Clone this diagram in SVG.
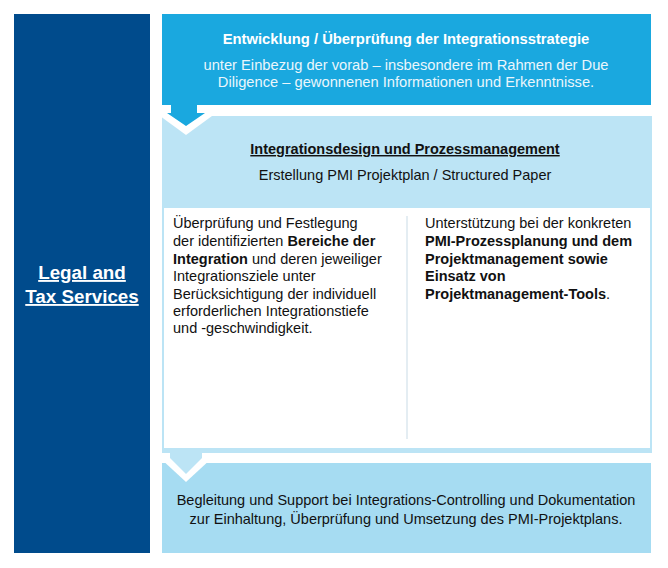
<svg xmlns="http://www.w3.org/2000/svg" width="668" height="568" viewBox="0 0 668 568">
<style>
text{font-family:"Liberation Sans",Arial,sans-serif;}
.w{fill:#ffffff;}
.k{fill:#111111;font-size:14.5px;}
.b{font-weight:bold;}
.c{text-anchor:middle;}
</style>
<rect x="0" y="0" width="668" height="568" fill="#ffffff"/>
<g id="legal">
<rect x="14" y="14" width="136" height="539" fill="#004b8c"/>
<text class="w b c" x="82" y="279" font-size="18.8" text-decoration="underline">Legal and</text>
<text class="w b c" x="82" y="303" font-size="18.8" text-decoration="underline">Tax Services</text>
</g>
<g id="strategy">
<rect x="162" y="14" width="489" height="91" fill="#1aa8df"/>
<text class="w b c" x="406" y="44" font-size="14.8">Entwicklung / Überprüfung der Integrationsstrategie</text>
<text class="c" x="406" y="70" font-size="14.7" fill="#eaf6fc">unter Einbezug der vorab – insbesondere im Rahmen der Due</text>
<text class="c" x="406" y="87" font-size="14.7" fill="#eaf6fc">Diligence – gewonnenen Informationen und Erkenntnisse.</text>
</g>
<g id="design">
<rect x="162" y="116" width="490" height="337" fill="#bce4f5"/>
<rect x="164" y="208" width="486" height="240" fill="#ffffff"/>
<text class="k b c" x="405" y="154" font-size="15.9" text-decoration="underline">Integrationsdesign und Prozessmanagement</text>
<text class="k c" x="405" y="180" font-size="15.7">Erstellung PMI Projektplan / Structured Paper</text>
<line x1="407" y1="216" x2="407" y2="439" stroke="#c9dbe6" stroke-width="1"/>
<text class="k" x="173" y="228">Überprüfung und Festlegung</text>
<text class="k" x="173" y="246">der identifizierten <tspan class="b">Bereiche der</tspan></text>
<text class="k" x="173" y="264"><tspan class="b">Integration</tspan> und deren jeweiliger</text>
<text class="k" x="173" y="281">Integrationsziele  unter</text>
<text class="k" x="173" y="299">Berücksichtigung der individuell</text>
<text class="k" x="173" y="316">erforderlichen Integrationstiefe</text>
<text class="k" x="173" y="333">und -geschwindigkeit.</text>
<text class="k" x="425" y="228">Unterstützung bei der konkreten</text>
<text class="k b" x="425" y="246">PMI-Prozessplanung und dem</text>
<text class="k b" x="425" y="264">Projektmanagement sowie</text>
<text class="k b" x="425" y="281">Einsatz von</text>
<text class="k" x="425" y="299"><tspan class="b">Projektmanagement-Tools</tspan>.</text>
</g>
<g id="support">
<rect x="162" y="463" width="489" height="90" fill="#a6dcf2"/>
<text class="k c" x="406" y="505" font-size="15.2">Begleitung und Support bei Integrations-Controlling  und Dokumentation</text>
<text class="k c" x="406" y="524" font-size="15.2">zur Einhaltung, Überprüfung und Umsetzung des PMI-Projektplans.</text>
</g>
<g id="connectors">
<polygon points="160,116 212,116 186,135" fill="#ffffff"/>
<polygon points="171,104 197,104 197,113 205,113 186,126 167,113 171,113" fill="#1aa8df"/>
<polygon points="160,458 212,458 186,482" fill="#ffffff"/>
<polygon points="170,452 202,452 202,458 186,474 170,458" fill="#bce4f5"/>
</g>
</svg>
